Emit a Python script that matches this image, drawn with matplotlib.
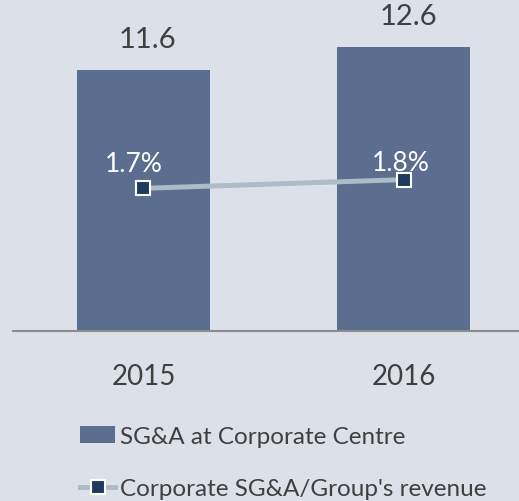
import matplotlib
matplotlib.use("Agg")
import matplotlib.pyplot as plt
from matplotlib.lines import Line2D
from matplotlib.patches import Patch

years = ["2015", "2016"]
sga = [11.6, 12.6]
ratio = [1.7, 1.8]
sga_labels = ["11.6", "12.6"]
ratio_labels = ["1.7%", "1.8%"]

BG = "#DCE0E8"
BAR = "#5B6E8F"
LINE = "#ADBCC6"
MARK = "#1F3A5F"
TXT = "#404040"

plt.rcParams['font.family'] = ['Lato', 'DejaVu Sans']

W, H = 519, 502
fig = plt.figure(figsize=(W / 100, H / 100), dpi=100, facecolor=BG)

left_px, right_px, base_px, top_px = 13, 519, 332, 0
ax = fig.add_axes([left_px / W, (H - base_px) / H, (right_px - left_px) / W, (base_px - top_px) / H])
ax.set_facecolor(BG)

x = list(range(len(years)))
unit = 260.5
ax.bar(x, sga, width=133 / unit, color=BAR, zorder=2)
ax.set_xlim(-(143.5 - left_px) / unit, 1 + (right_px - 404) / unit)
ppu = 284 / 12.6
ax.set_ylim(0, (base_px - top_px) / ppu)

for s in ["top", "right", "left"]:
    ax.spines[s].set_visible(False)
ax.spines["bottom"].set_color("#8C8C8C")
ax.spines["bottom"].set_linewidth(1.5)
ax.set_yticks([])
ax.set_xticks(x)
ax.set_xticklabels(years, fontsize=20, color=TXT)
ax.tick_params(axis="x", length=0, pad=23)

for xi, v, lab in zip(x, sga, sga_labels):
    ax.annotate(lab, (xi, v), xytext=(3, 22), textcoords="offset points",
                ha="center", va="center", fontsize=21, color=TXT)

ax2 = ax.twinx()
ax2.set_ylim(0.06, 3.876)
ax2.axis("off")
ax2.plot(x, ratio, color=LINE, lw=3.6, marker="s", markersize=10,
         markerfacecolor=MARK, markeredgecolor="white", markeredgewidth=1.5, zorder=3)
offsets = [(-7, 18), (-2, 12)]
for xi, v, lab, off in zip(x, ratio, ratio_labels, offsets):
    ax2.annotate(lab, (xi, v), xytext=off, textcoords="offset points",
                 ha="center", va="center", fontsize=19, color="white")

handles = [Patch(facecolor=BAR, edgecolor="none"),
           Line2D([], [], color=LINE, lw=3.6, marker="s", markersize=10,
                  markerfacecolor=MARK, markeredgecolor="white", markeredgewidth=1.5)]
labels = ["SG&A at Corporate Centre", "Corporate SG&A/Group's revenue"]
leg = fig.legend(handles, labels, loc="upper left", bbox_to_anchor=(80 / W, 1 - 427 / H),
                 frameon=False, fontsize=17.5, handlelength=1.45, handletextpad=0.2,
                 labelspacing=1.28, labelcolor=TXT, borderaxespad=0, borderpad=0)

fig.savefig("out.png", dpi=100, facecolor=BG)
